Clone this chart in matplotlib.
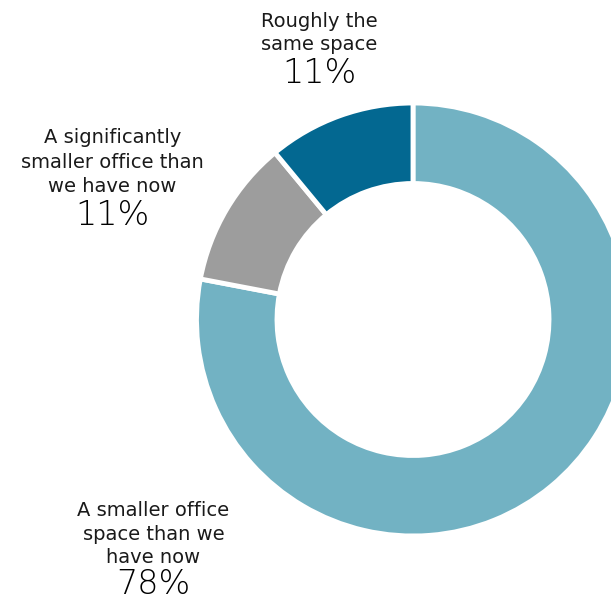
import matplotlib.pyplot as plt

# Survey shares, in clockwise order from 12 o'clock
categories = ["A smaller office space than we have now",
              "A significantly smaller office than we have now",
              "Roughly the same space"]
shares = [78, 11, 11]
colors = ["#72B2C3", "#9D9D9D", "#036891"]

# Label text lines per category (name lines, then percentage)
label_lines = [
    ["A smaller office", "space than we", "have now"],
    ["A significantly", "smaller office than", "we have now"],
    ["Roughly the", "same space"],
]

W, H = 611, 600
fig = plt.figure(figsize=(W / 100, H / 100), dpi=100)
ax = fig.add_axes([0, 0, 1, 1])
ax.set_xlim(0, W)
ax.set_ylim(0, H)
ax.set_aspect("equal")
ax.axis("off")

outer_r = 216.5
inner_r = 136
ax.pie(shares, colors=colors, startangle=90, counterclock=False,
       center=(413, H - 319.5), radius=outer_r,
       wedgeprops=dict(width=outer_r - inner_r, edgecolor="white", linewidth=3.5))
ax.set_xlim(0, W)
ax.set_ylim(0, H)

name_font = "DejaVu Sans"
pct_font = "DejaVu Sans"
# (center x, baselines of name lines in px from top, baseline of percentage)
placements = [
    (153.5, [516, 540, 563], 594),
    (112.5, [143, 168, 192], 225),
    (319, [27, 50], 83),
]
for lines, share, (cx, baselines, pct_base) in zip(label_lines, shares, placements):
    for line, yb in zip(lines, baselines):
        ax.text(cx, H - yb, line, ha="center", va="baseline",
                fontsize=14, family=name_font, color="#1a1a1a")
    ax.text(cx, H - pct_base, f"{share}%", ha="center", va="baseline",
            fontsize=24, family=pct_font, weight="light", color="#000000")

fig.savefig("out.png", dpi=100)
